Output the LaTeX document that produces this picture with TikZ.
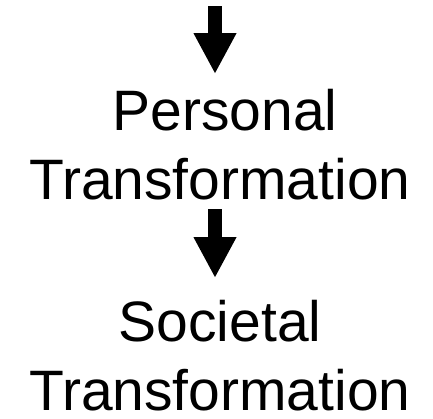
\documentclass[tikz,border=0pt]{standalone}
\usepackage{fontspec}
\setmainfont{Liberation Sans}
\usetikzlibrary{arrows.meta}
\begin{document}
\begin{tikzpicture}[x=1pt,y=-1pt,
  lbl/.style={anchor=base,inner sep=0pt,font=\fontsize{57}{69}\selectfont},
  bigarrow/.style={line width=14pt,-{Triangle[width=40pt,length=41pt]}}]
\useasboundingbox (0,0) rectangle (433,418);
\node[lbl] (p1) at (225,130) {Personal};
\node[lbl] (t1) at (220,199) {Transformation};
\node[lbl] (s2) at (220,341) {Societal};
\node[lbl] (t2) at (220,410) {Transformation};
\coordinate (a1s) at (215,6);
\coordinate (a1e) at (215,74);
\coordinate (a2s) at (215,209);
\coordinate (a2e) at (215,278);
\draw[bigarrow] (a1s) -- (a1e);
\draw[bigarrow] (a2s) -- (a2e);
\end{tikzpicture}
\end{document}
